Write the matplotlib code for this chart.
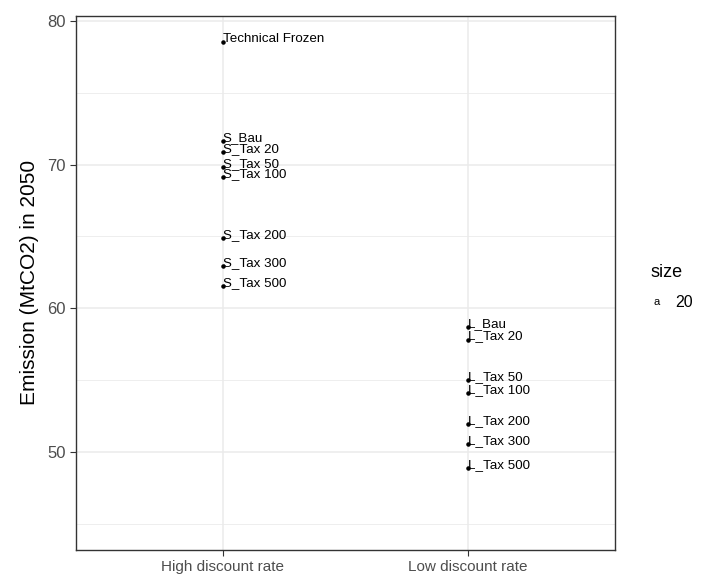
import matplotlib.pyplot as plt
import numpy as np

plt.rcParams['font.family'] = ['Liberation Sans', 'DejaVu Sans']

categories = ["High discount rate", "Low discount rate"]

high_labels = ["Technical Frozen", "S_Bau", "S_Tax 20", "S_Tax 50", "S_Tax 100",
               "S_Tax 200", "S_Tax 300", "S_Tax 500"]
high_values = [78.5, 71.66, 70.9, 69.86, 69.16, 64.87, 62.96, 61.57]

low_labels = ["L_Bau", "L_Tax 20", "L_Tax 50", "L_Tax 100",
              "L_Tax 200", "L_Tax 300", "L_Tax 500"]
low_values = [58.71, 57.83, 55.0, 54.12, 51.94, 50.54, 48.92]

fig = plt.figure(figsize=(7.02, 5.85), dpi=100)
ax = fig.add_axes([0.108, 0.06, 0.768, 0.913])

grid_col = "#EBEBEB"
ax.set_axisbelow(True)
ax.set_yticks([50, 60, 70, 80])
ax.set_yticks([45, 55, 65, 75], minor=True)
ax.set_xticks([1, 2])
ax.set_xticklabels(categories)
ax.grid(which="major", color=grid_col, lw=1.1)
ax.grid(which="minor", axis="y", color=grid_col, lw=0.6)
ax.tick_params(which="minor", length=0)
ax.tick_params(which="major", length=4, color="#333333", labelsize=11,
               labelcolor="#4D4D4D")
ax.tick_params(axis="y", labelsize=12)

for xi, labs, vals in [(1, high_labels, high_values), (2, low_labels, low_values)]:
    ax.scatter([xi] * len(vals), vals, s=5, color="black", zorder=3)
    for lab, v in zip(labs, vals):
        ax.text(xi, v, lab, fontsize=9.6, ha="left", va="baseline", color="black")

ax.set_xlim(0.4, 2.6)
ax.set_ylim(43.2, 80.35)
for sp in ax.spines.values():
    sp.set_color("#333333")
    sp.set_linewidth(1.0)
ax.set_ylabel("Emission (MtCO2) in 2050", fontsize=15, labelpad=6)

fig.text(0.927, 0.535, "size", fontsize=13, ha="left", va="center")
fig.text(0.935, 0.483, "a", fontsize=8, ha="center", va="center")
fig.text(0.975, 0.483, "20", fontsize=11.5, ha="center", va="center")

fig.savefig("out.png", dpi=100)
